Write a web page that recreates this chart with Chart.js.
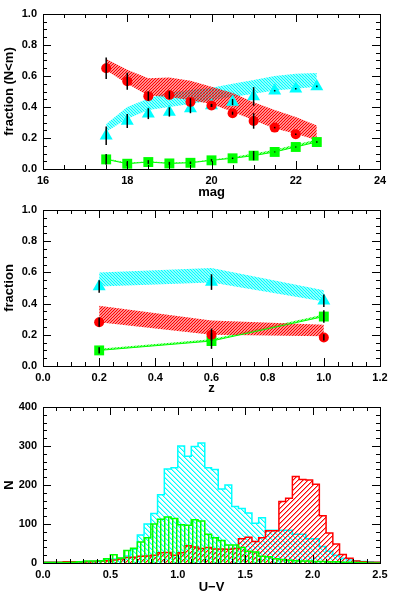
<!DOCTYPE html>
<html>
<head>
<meta charset="utf-8">
<script src="https://cdn.jsdelivr.net/npm/chart.js@4/dist/chart.umd.min.js"></script>
<style>
  html, body { margin: 0; padding: 0; background: #fff; overflow: hidden; }
  body { width: 393px; height: 591px; position: relative; }
  .panel { position: absolute; left: 0; width: 393px; }
  #p1 { top: 0; height: 200px; }
  #p2 { top: 196px; height: 200px; }
  #p3 { top: 393px; height: 202px; }
</style>
</head>
<body>
<div class="panel" id="p1"><canvas id="mag-chart"></canvas></div>
<div class="panel" id="p2"><canvas id="z-chart"></canvas></div>
<div class="panel" id="p3"><canvas id="uv-chart"></canvas></div>
<script>
// Панель 1: доли по звёздной величине
const magBins = [17.5, 18, 18.5, 19, 19.5, 20, 20.5, 21, 21.5, 22, 22.5];
const magRed = [0.65, 0.566, 0.47, 0.477, 0.432, 0.41, 0.36, 0.31, 0.267, 0.224, null];
const magRedErr = [0.07, 0.055, 0.03, 0.025, 0.025, 0.01, 0.01, 0.05, 0.005, 0.005, 0];
const magRedHi = [0.71, 0.64, 0.585, 0.59, 0.57, 0.53, 0.49, 0.43, 0.38, 0.335, 0.28];
const magRedLo = [0.637, 0.55, 0.475, 0.465, 0.443, 0.42, 0.37, 0.315, 0.262, 0.228, 0.185];
const magCyan = [0.215, 0.31, 0.357, 0.368, 0.39, 0.41, 0.432, 0.468, 0.505, 0.518, 0.533];
const magCyanErr = [0.06, 0.045, 0.035, 0.03, 0.03, 0.01, 0.02, 0.06, 0.005, 0.005, 0.005];
const magCyanHi = [0.29, 0.40, 0.455, 0.495, 0.51, 0.525, 0.55, 0.575, 0.6, 0.615, 0.62];
const magCyanLo = [0.24, 0.325, 0.38, 0.40, 0.42, 0.443, 0.465, 0.486, 0.507, 0.518, 0.53];
const magGreen = [0.062, 0.034, 0.045, 0.036, 0.04, 0.056, 0.069, 0.086, 0.11, 0.142, 0.174];
const magGreenErr = [0.035, 0.015, 0.012, 0.01, 0.008, 0.008, 0.005, 0.03, 0.003, 0.003, 0.005];
const magGreenHi = [0.07, 0.04, 0.05, 0.042, 0.045, 0.062, 0.078, 0.1, 0.125, 0.158, 0.19];

// Панель 2: доли по красному смещению
const zBins = [0.2, 0.6, 1.0];
const zRed = [0.281, 0.2, 0.183];
const zRedErr = [0.03, 0.04, 0.02];
const zRedHi = [0.386, 0.292, 0.264];
const zRedLo = [0.281, 0.2, 0.19];
const zCyan = [0.51, 0.538, 0.418];
const zCyanErr = [0.04, 0.05, 0.04];
const zCyanHi = [0.6, 0.628, 0.485];
const zCyanLo = [0.51, 0.536, 0.414];
const zGreen = [0.1, 0.16, 0.317];
const zGreenErr = [0.02, 0.05, 0.04];
const zGreenHi = [0.11, 0.172, 0.33];

// Панель 3: гистограммы U-V (бины по 0.05 от 0.0 до 2.5)
const uvStart = 0.0;
const uvBin = 0.05;
const uvCyan = [2, 2, 1, 1, 2, 3, 3, 4, 6, 8, 10, 12, 18, 35, 72, 100, 127, 175, 241, 244,
  300, 274, 299, 308, 244, 240, 190, 200, 145, 140, 128, 102, 116, 84, 84, 84, 84, 74, 74, 62,
  62, 42, 30, 20, 12, 8, 6, 4, 3, 2];
const uvRed = [2, 2, 2, 3, 3, 3, 3, 4, 5, 6, 8, 10, 14, 15, 17, 18, 20, 26, 27, 20,
  26, 44, 41, 37, 40, 36, 36, 35, 37, 62, 66, 55, 65, 83, 83, 158, 166, 222, 214, 213,
  202, 121, 77, 49, 22, 12, 5, 3, 2, 2];
const uvGreen = [1, 1, 1, 1, 2, 3, 5, 5, 6, 11, 21, 13, 32, 38, 54, 65, 100, 112, 118, 114,
  98, 97, 111, 108, 74, 65, 58, 46, 46, 40, 30, 28, 17, 16, 11, 9, 7, 6, 5, 5,
  4, 4, 3, 3, 2, 2, 1, 1, 0, 0];

const RED = '#ff0000';
const CYAN = '#00ffff';
const GREEN = '#00ff00';
const FONT = 'Liberation Sans';

// Мелкая штриховка для полос (сглаженные линии)
function fineHatch(color, kind) {
  const size = 3;
  const c = document.createElement('canvas');
  c.width = size;
  c.height = size;
  const g = c.getContext('2d');
  g.strokeStyle = color;
  g.lineWidth = 1.3;
  g.beginPath();
  if (kind === '/') {
    g.moveTo(-1, size + 1); g.lineTo(size + 1, -1);
    g.moveTo(-1, 1); g.lineTo(1, -1);
    g.moveTo(size - 1, size + 1); g.lineTo(size + 1, size - 1);
  } else {
    g.moveTo(-1, -1); g.lineTo(size + 1, size + 1);
    g.moveTo(-1, size - 1); g.lineTo(1, size + 1);
    g.moveTo(size - 1, -1); g.lineTo(size + 1, 1);
  }
  g.stroke();
  return g.createPattern(c, 'repeat');
}

// Штриховка гистограмм из пикселей, без сглаживания
function hatch(color, kind, size) {
  const c = document.createElement('canvas');
  c.width = size;
  c.height = size;
  const g = c.getContext('2d');
  for (let i = 0; i < size; i++) {
    g.fillStyle = color;
    if (kind === '\\') g.fillRect(i, i, 1, 1);
    if (kind === '/') g.fillRect(size - 1 - i, i, 1, 1);
    if (kind === '|') g.fillRect(0, i, 1, 1);
    g.globalAlpha = 0.45;
    if (kind === '\\') g.fillRect((i + 1) % size, i, 1, 1);
    if (kind === '/') g.fillRect((size - i) % size, i, 1, 1);
    if (kind === '|') g.fillRect(1, i, 1, 1);
    g.globalAlpha = 1;
  }
  return g.createPattern(c, 'repeat');
}

// Рамка и внутренние засечки на всех четырёх сторонах
const boxTicks = {
  id: 'boxTicks',
  afterDraw(chart, args, opts) {
    const { ctx, chartArea: a, scales: { x, y } } = chart;
    ctx.save();
    ctx.strokeStyle = '#000';
    ctx.lineWidth = 1;
    ctx.strokeRect(Math.round(a.left) + 0.5, Math.round(a.top) + 0.5,
      Math.round(a.right - a.left), Math.round(a.bottom - a.top));
    const draw = (scale, step, len, horiz) => {
      const n = Math.round((scale.max - scale.min) / step);
      for (let i = 1; i < n; i++) {
        const p = Math.round(scale.getPixelForValue(scale.min + i * step)) + 0.5;
        ctx.beginPath();
        if (horiz) {
          ctx.moveTo(p, a.bottom); ctx.lineTo(p, a.bottom - len);
          ctx.moveTo(p, a.top); ctx.lineTo(p, a.top + len);
        } else {
          ctx.moveTo(a.left, p); ctx.lineTo(a.left + len, p);
          ctx.moveTo(a.right, p); ctx.lineTo(a.right - len, p);
        }
        ctx.stroke();
      }
    };
    draw(x, opts.xMinor, 4, true);
    draw(x, x.options.ticks.stepSize, 8, true);
    draw(y, opts.yMinor, 4, false);
    draw(y, y.options.ticks.stepSize, 8, false);
    ctx.restore();
  }
};

// Планки ошибок
const errorBars = {
  id: 'errorBars',
  afterDatasetsDraw(chart) {
    const { ctx, scales: { x, y } } = chart;
    ctx.save();
    ctx.strokeStyle = '#000';
    ctx.lineWidth = 1.5;
    chart.data.datasets.forEach(ds => {
      if (!ds.errors) return;
      ds.data.forEach((p, i) => {
        if (p.y == null) return;
        const e = Math.max(ds.errors[i], 0.003);
        const px = x.getPixelForValue(p.x);
        ctx.beginPath();
        ctx.moveTo(px, y.getPixelForValue(p.y - e));
        ctx.lineTo(px, y.getPixelForValue(p.y + e));
        ctx.stroke();
      });
    });
    ctx.restore();
  }
};

const pts = (xs, ys) => xs.map((v, i) => ({ x: v, y: ys[i] }));

function band(xs, hi, lo, pattern) {
  return [
    { data: pts(xs, hi), borderColor: 'transparent', borderWidth: 0, pointRadius: 0, fill: '+1', backgroundColor: pattern, order: 10 },
    { data: pts(xs, lo), borderColor: 'transparent', borderWidth: 0, pointRadius: 0, fill: false, order: 10 }
  ];
}

function markers(xs, ys, errs, color, style, radius, line) {
  return {
    data: pts(xs, ys), errors: errs, pointStyle: style, pointRadius: radius,
    pointBackgroundColor: color, pointBorderColor: color, pointBorderWidth: 0,
    borderColor: color, borderWidth: 1, showLine: line, order: 1
  };
}

function axes(xMin, xMax, xStep, xDigits, xTitle, yMax, yStep, yDigits, yTitle, xHeight) {
  const tickFont = { family: FONT, size: 11, weight: 'bold' };
  const titleFont = { family: FONT, size: 13, weight: 'bold' };
  return {
    x: {
      type: 'linear', min: xMin, max: xMax,
      grid: { display: false, drawTicks: false }, border: { display: false },
      ticks: { stepSize: xStep, padding: 5, color: '#000', font: tickFont, maxRotation: 0,
        callback: v => v.toFixed(xDigits) },
      title: { display: true, text: xTitle, color: '#000', font: titleFont, padding: 0 },
      afterFit: s => { s.height = xHeight; }
    },
    y: {
      type: 'linear', min: 0, max: yMax,
      grid: { display: false, drawTicks: false }, border: { display: false },
      ticks: { stepSize: yStep, padding: 6, color: '#000', font: tickFont,
        callback: v => v.toFixed(yDigits) },
      title: { display: true, text: yTitle, color: '#000', font: titleFont, padding: { top: 2, bottom: 0 } },
      afterFit: s => { s.width = 43; }
    }
  };
}

function baseOptions(scales, xMinor, yMinor) {
  return {
    responsive: true,
    maintainAspectRatio: false,
    animation: false,
    layout: { padding: { top: 14, right: 13, left: 0, bottom: 0 } },
    plugins: { legend: { display: false }, tooltip: { enabled: false }, boxTicks: { xMinor, yMinor } },
    scales
  };
}

// График 1
new Chart(document.getElementById('mag-chart'), {
  type: 'line',
  data: {
    datasets: [
      ...band(magBins, magRedHi, magRedLo, fineHatch(RED, '/')),
      ...band(magBins, magCyanHi, magCyanLo, fineHatch(CYAN, '\\')),
      ...band(magBins, magGreenHi, magGreen, fineHatch(GREEN, '/')),
      markers(magBins, magRed, magRedErr, RED, 'circle', 5, false),
      markers(magBins, magCyan, magCyanErr, CYAN, 'triangle', 7.5, false),
      markers(magBins, magGreen, magGreenErr, GREEN, 'rect', 7, true)
    ]
  },
  options: baseOptions(axes(16, 24, 2, 0, 'mag', 1, 0.2, 1, 'fraction (N<m)', 31), 0.5, 0.05),
  plugins: [errorBars, boxTicks]
});

// График 2
new Chart(document.getElementById('z-chart'), {
  type: 'line',
  data: {
    datasets: [
      ...band(zBins, zRedHi, zRedLo, fineHatch(RED, '/')),
      ...band(zBins, zCyanHi, zCyanLo, fineHatch(CYAN, '\\')),
      ...band(zBins, zGreenHi, zGreen, fineHatch(GREEN, '/')),
      markers(zBins, zRed, zRedErr, RED, 'circle', 5, false),
      markers(zBins, zCyan, zCyanErr, CYAN, 'triangle', 7.5, false),
      markers(zBins, zGreen, zGreenErr, GREEN, 'rect', 7, true)
    ]
  },
  options: baseOptions(axes(0, 1.2, 0.2, 1, 'z', 1, 0.2, 1, 'fraction', 30), 0.05, 0.05),
  plugins: [errorBars, boxTicks]
});

// Гистограмма: точки на левых краях бинов + правый край последнего
function histo(counts, color, pattern, order) {
  const data = counts.map((c, i) => ({ x: uvStart + i * uvBin, y: c }));
  data.push({ x: uvStart + counts.length * uvBin, y: counts[counts.length - 1] });
  return {
    data, stepped: true, borderColor: color, borderWidth: 1.5, pointRadius: 0,
    fill: 'origin', backgroundColor: pattern, order
  };
}

// График 3
new Chart(document.getElementById('uv-chart'), {
  type: 'line',
  data: {
    datasets: [
      histo(uvCyan, CYAN, hatch(CYAN, '\\', 5), 3),
      histo(uvRed, RED, hatch(RED, '/', 5), 2),
      histo(uvGreen, GREEN, hatch(GREEN, '|', 4), 1)
    ]
  },
  options: baseOptions(axes(0, 2.5, 0.5, 1, 'U\u2212V', 400, 100, 0, 'N', 32), 0.1, 20),
  plugins: [boxTicks]
});
</script>
</body>
</html>
